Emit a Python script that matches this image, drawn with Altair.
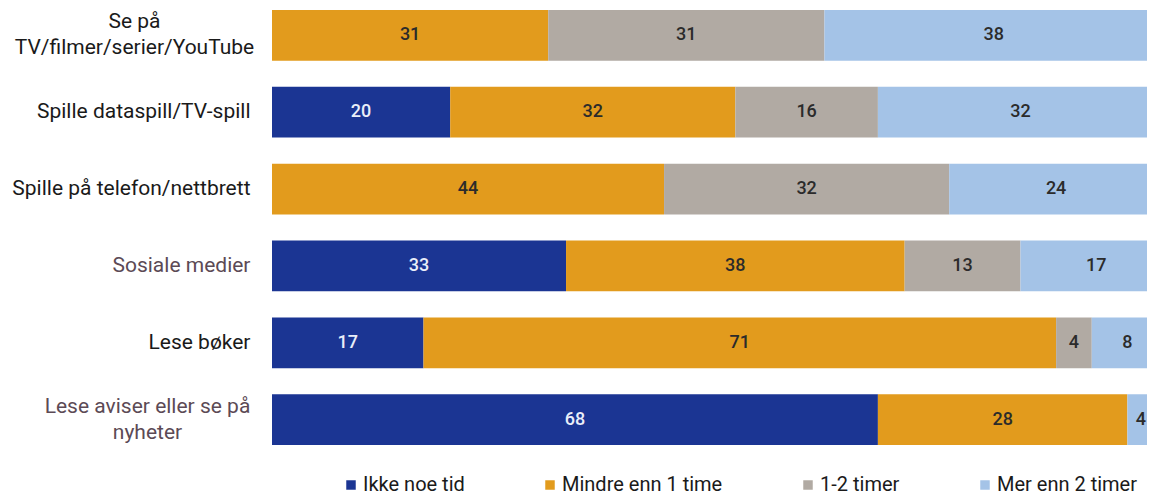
import altair as alt
import pandas as pd

categories = [
    "Se på|TV/filmer/serier/YouTube",
    "Spille dataspill/TV-spill",
    "Spille på telefon/nettbrett",
    "Sosiale medier",
    "Lese bøker",
    "Lese aviser eller se på|nyheter",
]
series = ["Ikke noe tid", "Mindre enn 1 time", "1-2 timer", "Mer enn 2 timer"]
ikke_noe_tid = [0, 20, 0, 33, 17, 68]
mindre_enn_1 = [31, 32, 44, 38, 71, 28]
en_to_timer = [31, 16, 32, 13, 4, 0]
mer_enn_2 = [38, 32, 24, 17, 8, 4]
colors = ["#1b3593", "#e29b1d", "#b1aaa3", "#a4c3e7"]

rows = []
for i, c in enumerate(categories):
    for j, (s, vals) in enumerate(zip(series, [ikke_noe_tid, mindre_enn_1, en_to_timer, mer_enn_2])):
        rows.append({"cat": c, "series": s, "order": j, "value": vals[i]})
df = pd.DataFrame(rows)

base = (
    alt.Chart(df)
    .transform_stack(
        stack="value",
        groupby=["cat"],
        as_=["v0", "v1"],
        sort=[alt.SortField("order", order="ascending")],
    )
    .transform_calculate(mid="min((datum.v0 + datum.v1) / 2, 97.5)")
)

x_scale = alt.Scale(domain=[0, 98.2], nice=False, zero=True)
y_scale = alt.Scale(paddingInner=0.34, paddingOuter=0)

multi = "indexof(datum.value, '|') >= 0"

y_axis = alt.Axis(
    title=None,
    ticks=False,
    domain=False,
    grid=False,
    labelExpr="split(datum.value, '|')",
    labelFont="Roboto",
    labelFontSize=21,
    labelLimit=300,
    labelLineHeight=26,
    labelAlign={"condition": {"test": multi, "value": "center"}, "value": "right"},
    labelOffset={"condition": {"test": multi, "value": -13}, "value": 0},
    labelPadding={
        "condition": [
            {"test": "indexof(datum.value, 'Se på') == 0", "value": 138},
            {"test": "indexof(datum.value, 'Lese aviser') == 0", "value": 125},
        ],
        "value": 22,
    },
    labelColor={
        "condition": {
            "test": "datum.value == 'Sosiale medier' || indexof(datum.value, 'Lese aviser') == 0",
            "value": "#5c4a55",
        },
        "value": "#1a1a1a",
    },
)

bars = base.mark_bar(clip=True, strokeWidth=0).encode(
    y=alt.Y("cat:N", sort=categories, scale=y_scale, axis=y_axis),
    x=alt.X("v0:Q", scale=x_scale, axis=None),
    x2="v1:Q",
    color=alt.Color(
        "series:N",
        scale=alt.Scale(domain=series, range=colors),
        legend=alt.Legend(
            title=None,
            orient="none",
            legendX=69,
            legendY=465,
            direction="horizontal",
            columns=4,
            symbolType="square",
            symbolSize=90,
            symbolStrokeWidth=0,
            labelFont="Roboto",
            labelFontSize=20,
            labelLimit=300,
            labelColor="#1a1a1a",
            labelOffset=2,
            columnPadding=75,
            padding=0,
        ),
    ),
)

labels = base.transform_filter("datum.value > 0").mark_text(
    font="Roboto", fontSize=18, fontWeight=500
).encode(
    y=alt.Y("cat:N", sort=categories, scale=y_scale),
    x=alt.X("mid:Q", scale=x_scale),
    text="value:Q",
    color=alt.condition(
        "datum.series == 'Ikke noe tid'", alt.value("#e9eef9"), alt.value("#2b2b2b")
    ),
)

chart = (
    alt.layer(bars, labels)
    .properties(
        width=875,
        height=435,
        autosize=alt.AutoSizeParams(type="none"),
        padding={"left": 264, "top": 2, "right": 0, "bottom": 51},
        background="white",
    )
    .configure_view(stroke=None)
)

chart.save("out.html", embed_options={"renderer": "svg", "actions": False})
